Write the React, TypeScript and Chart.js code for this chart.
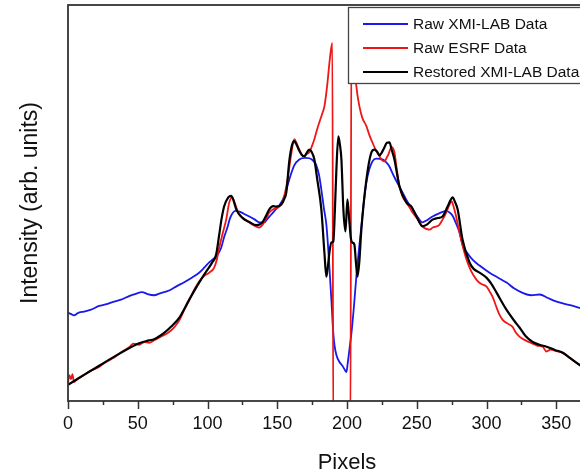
import React, { useEffect, useRef } from "react";
import { Chart, registerables } from "chart.js";

Chart.register(...registerables);

// x axis (Pixels) range and tick labels
const xMin = 0;
const xMax = 400;
const xTickStep = 50;
const xMinorStep = 25;

// Raw XMI-LAB Data (blue): [pixel, intensity]
const rawXmiLab: [number, number][] = [
  [0, 22.3], [2, 22.0], [4.3, 21.6], [7, 22.2], [11.5, 22.6], [16, 23.0], [22.3, 24.0], [27, 24.4],
  [33, 25.1], [38, 25.6], [43.8, 26.5], [48, 27.0], [53.1, 27.5], [57, 27.0], [61.7, 26.7], [66, 27.2],
  [72.5, 27.9], [78, 29.0], [83.3, 30.0], [89, 31.2], [94, 32.4], [98, 33.8], [101.2, 35.0], [104, 35.8],
  [107, 36.8], [109.8, 38.7], [112, 41.5], [114.1, 43.6], [116, 46.0], [117.7, 47.3], [120, 48.0],
  [122.8, 47.8], [126, 47.3], [130, 46.6], [134, 45.8], [137.1, 45.1], [140.7, 45.1], [143, 46.0],
  [145.7, 47.1], [148.5, 48.2], [151.5, 49.4], [155, 51.6], [158.6, 55.9], [162.2, 59.5], [165.8, 61.0],
  [170, 61.4], [173, 61.3], [176, 60.6], [178, 59.5], [180, 57.0], [181.6, 53.4], [183.5, 48.5],
  [185.2, 44.6], [187, 36.0], [188.8, 25.6], [190, 18.0], [191, 14.2], [192.5, 11.5], [194.5, 9.9],
  [196.7, 8.9], [198.5, 7.8], [199.6, 7.3], [200.5, 9.5], [201.7, 12.9], [203.2, 17.2], [205, 24.0],
  [206.7, 31.4], [208.5, 38.0], [210.3, 44.1], [212, 50.0], [213.9, 55.2], [216, 58.5], [218.2, 60.5],
  [221, 61.2], [225.4, 61.0], [228, 60.3], [230.4, 59.2], [232, 58.0], [234, 56.5], [237, 54.5],
  [239.8, 52.7], [243, 50.5], [247, 48.4], [250, 46.8], [254.1, 45.1], [257, 45.6], [261.3, 46.6],
  [266, 47.4], [271.4, 48.0], [273.5, 47.6], [275.7, 46.8], [278, 45.0], [280.7, 42.5], [282.8, 39.5],
  [286, 37.5], [290, 35.7], [295, 34.2], [302.2, 32.4], [308, 31.2], [314.4, 29.9], [320, 28.4],
  [325.9, 27.3], [332, 26.7], [338.1, 26.9], [344, 26.0], [350.3, 25.1], [356, 24.5], [362, 24.0],
  [366.8, 23.5], [372, 23.0], [380, 22.5], [390, 22.0], [400, 21.6],
];

// Raw ESRF Data (red): [pixel, intensity]
const rawEsrf: [number, number][] = [
  [0, 4.6], [1, 6.5], [2.2, 5.5], [3.2, 6.8], [4.3, 4.8], [7, 5.6], [11.5, 6.6], [16, 7.6], [22.3, 8.6],
  [27, 9.8], [33, 11.0], [38, 12.3], [43.8, 13.6], [47, 14.5], [51, 14.2], [55, 14.9], [58.1, 14.7],
  [62, 15.4], [67.5, 16.4], [72, 17.3], [76.1, 18.6], [80, 20.5], [83.3, 23.0], [87, 25.5], [90.5, 28.1],
  [94, 30.2], [97.6, 31.6], [101.2, 32.4], [104.8, 33.7], [106.5, 35.5], [108.4, 38.7], [111, 42.5],
  [113.4, 45.8], [115.6, 50.1], [117.7, 51.4], [119, 50.5], [120.6, 48.9], [122.5, 47.2], [124.9, 46.3],
  [128, 45.6], [130, 45.1], [133, 44.4], [135, 44.0], [137, 43.8], [139.3, 44.4], [142, 46.0],
  [144.3, 47.6], [147, 48.4], [151.5, 49.1], [154, 50.5], [157.2, 55.5], [160.1, 62.5], [162.2, 66.1],
  [164, 65.0], [165.8, 63.5], [168, 62.0], [169.4, 61.8], [171, 62.3], [173, 62.8], [175, 64.5],
  [176.6, 66.1], [178.5, 68.5], [180.2, 70.4], [182, 72.3], [183.8, 74.4], [185.9, 80.0], [187, 84.0],
  [188.1, 87.6], [189.5, 90.4], [190.2, -10], [202.4, -10], [203.2, 96.5], [204.5, 90.0], [206.7, 79.5],
  [208.9, 74.4], [211, 71.5], [213.9, 69.4], [216, 67.2], [218.2, 65.3], [220.5, 63.5], [223.3, 61.8],
  [225, 60.8], [226.9, 60.5], [228.5, 61.5], [229.7, 62.3], [231.9, 64.1], [234, 62.8], [235.5, 59.0],
  [237.6, 54.2], [240, 51.5], [242.6, 50.1], [245, 48.8], [247, 47.6], [250.5, 46.0], [254.1, 44.1],
  [256, 43.6], [259.2, 43.3], [261.5, 43.8], [264.2, 44.1], [266, 44.4], [268.5, 45.8], [271, 47.5],
  [273.5, 49.6], [275, 50.4], [276.5, 49.0], [277.9, 47.1], [280.7, 42.5], [283, 39.0], [285.7, 35.7],
  [289, 32.8], [292.9, 30.6], [296, 29.6], [300.1, 28.9], [302, 27.8], [304.4, 26.3], [307, 23.8],
  [309, 22.0], [311.6, 20.5], [315, 19.6], [318.7, 18.7], [321, 17.3], [323.8, 16.2], [328, 15.3],
  [333, 14.5], [336, 14.0], [340.3, 13.7], [343, 12.5], [346, 13.0], [350, 12.6], [354.6, 12.2],
  [358, 11.4], [362, 10.3], [366.8, 9.1], [372, 8.0], [380, 6.8], [390, 5.4], [400, 4.2],
];

// Restored XMI-LAB Data (black): [pixel, intensity]
const restoredXmiLab: [number, number][] = [
  [0, 4.1], [11.5, 6.6], [22.3, 8.9], [36.6, 11.9], [51, 14.6], [58, 15.3], [61.7, 15.6], [68.9, 17.2],
  [74, 18.8], [79.7, 21.0], [86.9, 25.6], [94, 29.9], [99.1, 32.7], [103.4, 35.0], [106.2, 37.0],
  [108.4, 42.0], [110, 45.8], [111.9, 49.1], [114.9, 51.4], [117, 51.8], [118.8, 50.5], [120.6, 48.4],
  [124.9, 46.3], [130, 45.2], [135, 44.4], [139.3, 45.1], [142, 46.8], [144.3, 48.4], [147, 49.2],
  [149.3, 49.1], [152.9, 49.6], [155, 51.0], [156.5, 52.7], [158.6, 60.5], [160.5, 64.5], [162.2, 65.6],
  [164, 64.6], [165.8, 63.2], [167.5, 62.2], [169.4, 61.8], [171.3, 62.8], [173, 63.5], [174.8, 62.8],
  [176.6, 61.0], [178.7, 55.9], [181.6, 48.4], [183.8, 37.5], [185.2, 31.4], [186.3, 34.0], [187.4, 37.5],
  [188.8, 40.0], [190.2, 40.3], [191.3, 48.0], [192.4, 58.5], [193.8, 66.8], [195, 64.5], [196, 61.0],
  [197.4, 48.4], [198.9, 42.8], [200.3, 50.9], [201.7, 45.3], [202.8, 41.0], [203.9, 40.0], [205.3, 39.5],
  [206.4, 35.0], [207.5, 31.4], [208.8, 35.0], [210.3, 43.3], [213.9, 55.9], [217.5, 62.8], [219.7, 63.5],
  [221.5, 63.0], [223.3, 62.0], [225, 62.8], [226.9, 64.1], [228.6, 65.2], [230.4, 65.3], [232, 63.5],
  [234, 61.0], [237.6, 54.2], [242.6, 50.1], [246.2, 49.1], [249.8, 46.6], [254.1, 44.1], [257.5, 44.6],
  [261.3, 45.8], [265, 46.2], [268.5, 46.6], [272.1, 49.1], [274, 50.6], [275.7, 51.4], [277.4, 50.3],
  [279.3, 48.4], [282.8, 40.8], [287.9, 34.9], [291, 33.3], [295, 32.4], [300.1, 31.1], [303.5, 29.6],
  [307.3, 27.3], [314.4, 23.0], [320, 20.2], [323.8, 18.5], [328, 16.4], [333.1, 14.9], [338, 14.2],
  [343.1, 13.7], [349, 12.9], [354.6, 12.2], [360, 10.8], [366.8, 9.1], [375, 7.6], [385, 6.0], [400, 4.0],
];

const seriesLabels = ["Raw XMI-LAB Data", "Raw ESRF Data", "Restored XMI-LAB Data"];
const seriesColors = ["rgb(25,25,235)", "rgb(238,22,22)", "rgb(0,0,0)"];

const FONT = "'Liberation Sans', Arial, Helvetica, sans-serif";

const framePlugin = {
  id: "frameTicks",
  afterDatasetsDraw(chart: any) {
    const { ctx, chartArea } = chart;
    const xs = chart.scales.x;
    ctx.save();
    ctx.strokeStyle = "#333";
    ctx.lineWidth = 1.8;
    ctx.strokeRect(chartArea.left, chartArea.top, chartArea.right - chartArea.left, chartArea.bottom - chartArea.top);
    ctx.lineWidth = 1.5;
    for (let v = xMin; v <= xMax; v += xMinorStep) {
      const px = Math.round(xs.getPixelForValue(v)) + 0.5;
      const len = v % xTickStep === 0 ? 8 : 4;
      ctx.beginPath();
      ctx.moveTo(px, chartArea.bottom);
      ctx.lineTo(px, chartArea.bottom + len);
      ctx.stroke();
    }
    ctx.restore();
  },
  afterDraw(chart: any) {
    const { ctx } = chart;
    ctx.save();
    const bx = 348, by = 7, bw = 280, bh = 76;
    ctx.fillStyle = "#fff";
    ctx.fillRect(bx, by, bw, bh);
    ctx.strokeStyle = "#444";
    ctx.lineWidth = 1.3;
    ctx.strokeRect(bx + 0.5, by + 0.5, bw, bh);
    chart.data.datasets.forEach((ds: any, i: number) => {
      const y = 24 + i * 24;
      ctx.strokeStyle = ds.borderColor;
      ctx.lineWidth = ds.borderWidth;
      ctx.beginPath();
      ctx.moveTo(363, y);
      ctx.lineTo(408, y);
      ctx.stroke();
      ctx.fillStyle = "#111";
      ctx.font = `15.5px ${FONT}`;
      ctx.textBaseline = "middle";
      ctx.textAlign = "left";
      ctx.fillText(ds.label, 413, y + 1);
    });
    ctx.restore();
  },
};

export default function App() {
  const ref = useRef<HTMLCanvasElement>(null);
  useEffect(() => {
    if (!ref.current) return;
    Chart.defaults.font.family = FONT;
    const toPts = (arr: [number, number][]) => arr.map(([x, y]) => ({ x, y }));
    const chart = new Chart(ref.current, {
      type: "line",
      data: {
        datasets: [
          { label: seriesLabels[0], data: toPts(rawXmiLab), borderColor: seriesColors[0], borderWidth: 1.8, pointRadius: 0, cubicInterpolationMode: "monotone", order: 2 },
          { label: seriesLabels[1], data: toPts(rawEsrf), borderColor: seriesColors[1], borderWidth: 1.8, pointRadius: 0, cubicInterpolationMode: "monotone", order: 1 },
          { label: seriesLabels[2], data: toPts(restoredXmiLab), borderColor: seriesColors[2], borderWidth: 2.2, pointRadius: 0, cubicInterpolationMode: "monotone", order: 0 },
        ],
      } as any,
      options: {
        animation: false,
        responsive: false,
        devicePixelRatio: 1,
        layout: { padding: { top: 5, left: 0, right: 34, bottom: 0 } },
        plugins: { legend: { display: false }, tooltip: { enabled: false } },
        scales: {
          x: {
            type: "linear",
            min: xMin,
            max: xMax,
            grid: { display: false, drawTicks: false },
            border: { display: false },
            ticks: { stepSize: xTickStep, padding: 12, color: "#111", font: { size: 18, family: FONT } },
            title: { display: true, text: "Pixels", color: "#111", font: { size: 22, family: FONT }, padding: { top: 0, bottom: 0 } },
            afterFit: (s: any) => { s.height = 75; },
          },
          y: {
            min: 0,
            max: 100,
            grid: { display: false, drawTicks: false },
            border: { display: false },
            ticks: { display: false },
            title: { display: true, text: "Intensity (arb. units)", color: "#111", font: { size: 23, family: FONT }, padding: { top: 17, bottom: 0 } },
            afterFit: (s: any) => { s.width = 68; },
          },
        },
      } as any,
      plugins: [framePlugin],
    });
    return () => chart.destroy();
  }, []);
  return (
    <div style={{ position: "fixed", left: 0, top: 0, width: 580, height: 476, overflow: "hidden", background: "#fff" }}>
      <canvas ref={ref} width={660} height={476} style={{ display: "block" }} />
    </div>
  );
}
